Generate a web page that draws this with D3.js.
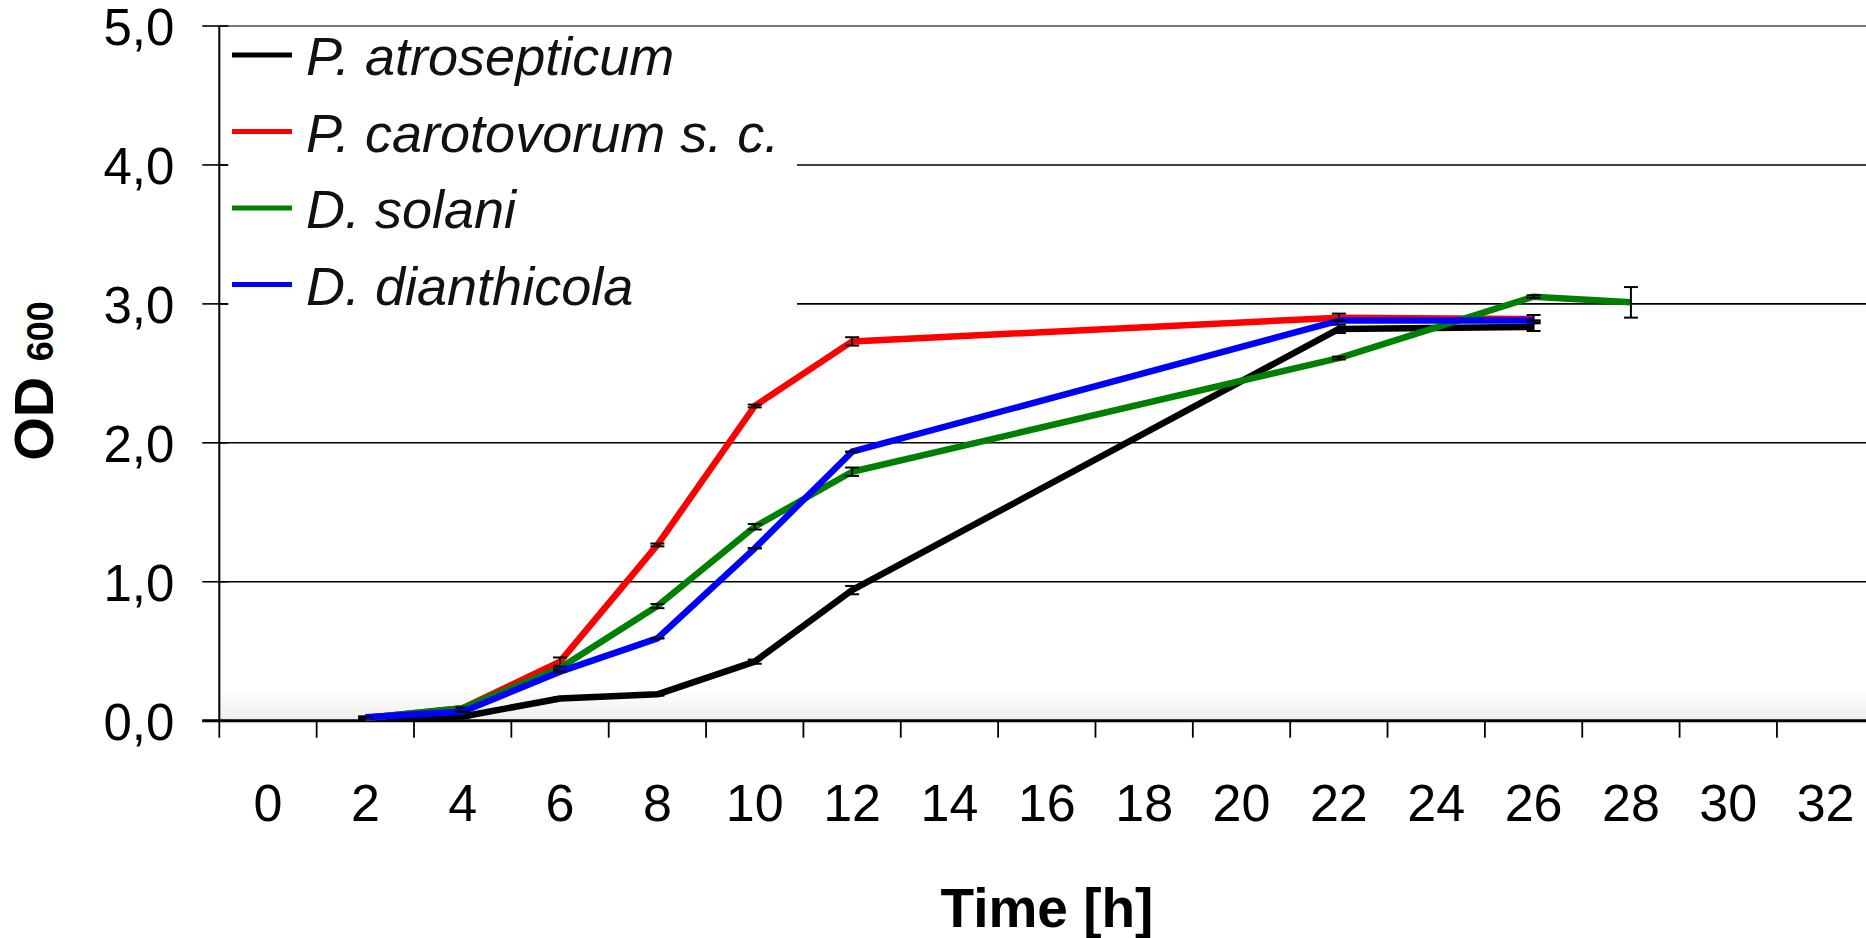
<!DOCTYPE html>
<html>
<head>
<meta charset="utf-8">
<script src="https://cdn.jsdelivr.net/npm/d3@7"></script>
<style>
  html, body { margin: 0; padding: 0; background: #fff; }
  svg { display: block; font-family: "Liberation Sans", Arial, sans-serif; }
</style>
</head>
<body>
<svg id="chart" width="1866" height="938"></svg>
<script>
// ---- data ----
const categories = ["0","2","4","6","8","10","12","14","16","18","20","22","24","26","28","30","32"];
const yTicks = [0, 1, 2, 3, 4, 5];
const seriesNames = ["P. atrosepticum", "P. carotovorum s. c.", "D. solani", "D. dianthicola"];
const seriesColors = ["#000000", "#ff0000", "#008000", "#0000ff"];

const atroTime  = [2, 4, 6, 8, 10, 12, 22, 26];
const atroOD    = [0.02, 0.03, 0.16, 0.19, 0.425, 0.94, 2.82, 2.835];
const atroErr   = [0.01, 0.01, 0.01, 0.01, 0.015, 0.03, 0.03, 0.03];

const caroTime  = [2, 4, 6, 8, 10, 12, 22, 26];
const caroOD    = [0.02, 0.09, 0.425, 1.265, 2.265, 2.73, 2.9, 2.89];
const caroErr   = [0.01, 0.01, 0.03, 0.01, 0.01, 0.03, 0.03, 0.03];

const solaTime  = [2, 4, 6, 8, 10, 12, 22, 26, 28];
const solaOD    = [0.02, 0.09, 0.38, 0.825, 1.396, 1.792, 2.61, 3.052, 3.011];
const solaErr   = [0.005, 0.005, 0.01, 0.015, 0.02, 0.03, 0.01, 0.01, 0.11];

const dianTime  = [2, 4, 6, 8, 10, 12, 22, 26];
const dianOD    = [0.025, 0.065, 0.353, 0.593, 1.241, 1.936, 2.88, 2.88];
const dianErr   = [0, 0, 0, 0, 0, 0, 0, 0];

const seriesTimes = [atroTime, caroTime, solaTime, dianTime];
const seriesValues = [atroOD, caroOD, solaOD, dianOD];
const seriesErrors = [atroErr, caroErr, solaErr, dianErr];

// ---- layout ----
const svg = d3.select("#chart");
const pLeft = 219.3, pRight = 1874.3, pTop = 26, pBottom = 720.7;
const x = d3.scaleBand().domain(categories).range([pLeft, pRight]).padding(0);
const y = d3.scaleLinear().domain([0, 5]).range([pBottom, pTop]);
const cx = t => x(String(t)) + x.bandwidth() / 2;

// background gradient near the bottom of the plot
const defs = svg.append("defs");
const grad = defs.append("linearGradient").attr("id", "bg").attr("x1", 0).attr("y1", 0).attr("x2", 0).attr("y2", 1);
grad.append("stop").attr("offset", "0%").attr("stop-color", "#ffffff");
grad.append("stop").attr("offset", "100%").attr("stop-color", "#eeeeee");
svg.append("rect").attr("x", pLeft).attr("y", pBottom - 32).attr("width", 1866 - pLeft).attr("height", 32)
  .attr("fill", "url(#bg)");

// gridlines
svg.append("g").selectAll("line").data(yTicks.filter(d => d > 0)).join("line")
  .attr("x1", pLeft).attr("x2", 1866)
  .attr("y1", d => y(d)).attr("y2", d => y(d))
  .attr("stroke", d => d === 5 ? "#777" : "#000")
  .attr("stroke-width", d => d === 5 ? 2 : 1.6);

// y axis
const yAxis = d3.axisLeft(y).tickValues(yTicks).tickSize(0)
  .tickFormat(d => d3.format(".1f")(d).replace(".", ","));
const gy = svg.append("g").attr("transform", `translate(${pLeft},0)`).call(yAxis);
gy.select(".domain").remove();
gy.selectAll("text").attr("x", -45).attr("dy", "0.36em")
  .attr("font-size", 51).attr("fill", "#000").attr("font-family", "Liberation Sans, Arial, sans-serif");
// cross ticks
svg.append("g").selectAll("line").data(yTicks).join("line")
  .attr("x1", pLeft - 17).attr("x2", pLeft + 9)
  .attr("y1", d => y(d)).attr("y2", d => y(d))
  .attr("stroke", "#000").attr("stroke-width", 1.6);
svg.append("line").attr("x1", pLeft).attr("x2", pLeft).attr("y1", pTop).attr("y2", pBottom)
  .attr("stroke", "#000").attr("stroke-width", 2);

// x axis
const xAxis = d3.axisBottom(x).tickSize(0);
const gx = svg.append("g").attr("transform", `translate(0,${pBottom})`).call(xAxis);
gx.select(".domain").remove();
gx.selectAll("text").attr("y", 100).attr("dy", 0)
  .attr("font-size", 52).attr("fill", "#000").attr("font-family", "Liberation Sans, Arial, sans-serif");
// boundary ticks
const bounds = categories.map(c => x(c)).concat([x(categories[categories.length - 1]) + x.bandwidth()]);
svg.append("g").selectAll("line").data(bounds).join("line")
  .attr("x1", d => d).attr("x2", d => d)
  .attr("y1", pBottom).attr("y2", pBottom + 17)
  .attr("stroke", "#000").attr("stroke-width", 1.8);
svg.append("line").attr("x1", pLeft - 17).attr("x2", 1866).attr("y1", pBottom).attr("y2", pBottom)
  .attr("stroke", "#000").attr("stroke-width", 3);

// series lines
const line = d3.line().x(d => cx(d.t)).y(d => y(d.v));
seriesNames.forEach((name, i) => {
  const pts = seriesTimes[i].map((t, j) => ({ t, v: seriesValues[i][j], e: seriesErrors[i][j] }));
  svg.append("path").datum(pts)
    .attr("d", line).attr("fill", "none")
    .attr("stroke", seriesColors[i]).attr("stroke-width", 6.5)
    .attr("stroke-linejoin", "round");
  const eb = svg.append("g").selectAll("g").data(pts).join("g");
  eb.append("line")
    .attr("x1", d => cx(d.t)).attr("x2", d => cx(d.t))
    .attr("y1", d => y(d.v - d.e)).attr("y2", d => y(d.v + d.e))
    .attr("stroke", "#000").attr("stroke-width", 2);
  eb.append("line")
    .attr("x1", d => cx(d.t) - 7).attr("x2", d => cx(d.t) + 7)
    .attr("y1", d => y(d.v + d.e)).attr("y2", d => y(d.v + d.e))
    .attr("stroke", "#000").attr("stroke-width", 2);
  eb.append("line")
    .attr("x1", d => cx(d.t) - 7).attr("x2", d => cx(d.t) + 7)
    .attr("y1", d => y(d.v - d.e)).attr("y2", d => y(d.v - d.e))
    .attr("stroke", "#000").attr("stroke-width", 2);
});

// legend
const lg = svg.append("g");
lg.append("rect").attr("x", pLeft + 9).attr("y", pTop + 2).attr("width", 797 - pLeft - 9).attr("height", 292)
  .attr("fill", "#fff");
seriesNames.forEach((name, i) => {
  const ry = 55 + i * 76.5;
  lg.append("line").attr("x1", 232).attr("x2", 292).attr("y1", ry).attr("y2", ry)
    .attr("stroke", seriesColors[i]).attr("stroke-width", 5);
  lg.append("text").attr("x", 306).attr("y", ry + 20)
    .attr("font-size", 54).attr("font-style", "italic").attr("fill", "#111")
    .text(name);
});

// axis titles
svg.append("text").attr("x", 1047).attr("y", 927).attr("text-anchor", "middle")
  .attr("font-size", 55).attr("font-weight", "bold").text("Time [h]");
const yt = svg.append("text").attr("transform", "translate(53,381) rotate(-90)")
  .attr("text-anchor", "middle").attr("font-weight", "bold");
yt.append("tspan").attr("font-size", 56).text("OD ");
yt.append("tspan").attr("font-size", 36).text("600");
</script>
</body>
</html>
